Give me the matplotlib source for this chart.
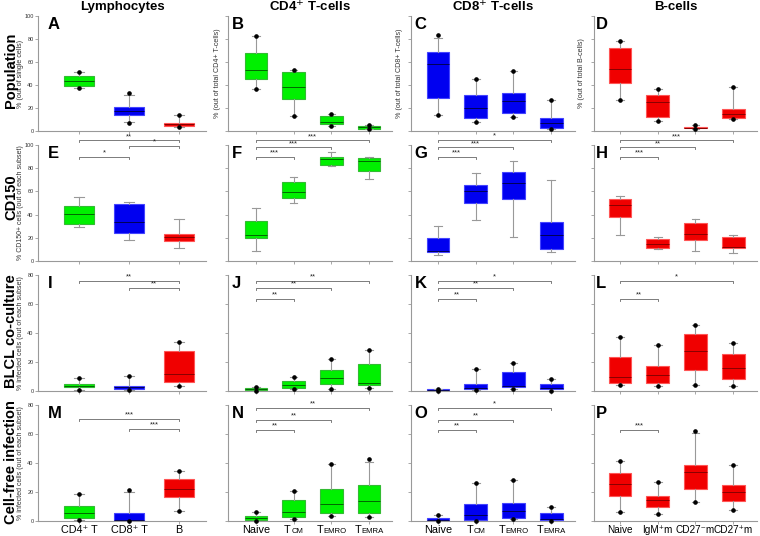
import matplotlib
matplotlib.use("Agg")
import matplotlib.pyplot as plt
from matplotlib.offsetbox import TextArea, HPacker, AnnotationBbox

plt.rcParams['font.family'] = ['Liberation Sans', 'DejaVu Sans']

# --- data: [whislo, q1, median, q3, whishi] per box, dots = [low, high] ---
A_box = [[37, 39, 43.5, 47.8, 51.6], [7.5, 13.9, 17.4, 20.6, 31], [3.2, 4.3, 5.8, 7.2, 13.9]]
A_dots = [[37, 51.6], [6.7, 33.3], [3.2, 13.9]]
B_box = [[36.5, 45.5, 53, 67.5, 82.6], [13.3, 28, 38, 51.3, 52.8], [4.6, 5.8, 7.5, 12.8, 14.8], [1.4, 2, 3.2, 4.3, 5.2]]
B_dots = [[36.5, 82.6], [13.3, 52.8], [4.6, 14.8], [1.4, 5.2]]
C_box = [[13.6, 29, 58, 68.4, 81], [8.1, 11, 19.7, 31.3, 45.5], [11.9, 15.9, 26.4, 33, 52.2], [2, 2.9, 7.2, 11.6, 27]]
C_dots = [[13.6, 83.8], [8.1, 45.5], [11.9, 52.2], [2, 27]]
D_box = [[27, 41.5, 53.6, 71.9, 78.6], [8.7, 12.5, 25.5, 31.3, 36.2], [1.5, 2.3, 3, 3.8, 4.9], [10.4, 11, 14.5, 19.1, 38]]
D_dots = [[27, 78.6], [8.7, 36.2], [1.5, 4.9], [10.4, 38]]

E_box = [[29, 31.6, 40.2, 47.7, 55.4], [18.1, 23.9, 33.6, 48.9, 51.1], [10.9, 17.5, 20.4, 23, 36.5]]
F_box = [[8.9, 20.1, 22.1, 34.5, 45.4], [50, 54, 59.7, 67.8, 72.7], [81.9, 82.8, 87.7, 89.9, 93.7], [70.9, 77.8, 86.5, 89, 89.9]]
G_box = [[4.9, 7.5, 9, 20.1, 30.4], [35.3, 49.7, 60.6, 65.3, 75.9], [21, 53.4, 67.5, 76.7, 85.9], [7.8, 10.1, 22.7, 33.4, 69.6]]
H_box = [[22.2, 38.2, 48, 53.4, 56.3], [10.1, 11.5, 14.7, 18.7, 20.4], [8.4, 17.8, 23, 32.8, 36.5], [6.6, 10.9, 12.3, 20.4, 22.7]]

I_box = [[0.7, 2.5, 3.7, 4.8, 8.7], [0.7, 1.4, 2.6, 3.7, 10.3], [3.4, 6.4, 11.7, 27.4, 33.6]]
I_dots = [[0.7, 8.7], [0.7, 10.3], [3.4, 33.6]]
J_box = [[0.3, 0.9, 1.5, 2.1, 2.5], [1.2, 2.3, 4.1, 7.1, 9.9], [1.6, 4.6, 8.7, 14.3, 22.3], [2.3, 4.4, 5.7, 18.4, 28.5]]
J_dots = [[0.3, 2.5], [1.2, 9.9], [1.6, 22.3], [2.3, 28.5]]
K_box = [[0.3, 0.5, 0.8, 1.1, 1.2], [0.7, 1.6, 2.3, 4.6, 15], [1.1, 2.8, 3.4, 13.3, 19.1], [0.3, 1.2, 1.9, 4.8, 8.1]]
K_dots = [[0.3, 1.2], [0.7, 15], [1.1, 19.1], [0.3, 8.1]]
L_box = [[4.1, 5.5, 9.7, 23.4, 37], [3.4, 5.5, 11, 17, 31.7], [4, 14.5, 27.6, 39.3, 45.5], [3.4, 8.3, 15.9, 25.5, 33]]
L_dots = [[4.1, 37], [3.4, 31.7], [4, 45.5], [3.4, 33]]

M_box = [[0.9, 1.9, 5.3, 10.1, 18.4], [0.2, 0.2, 0.8, 5.7, 20], [6.7, 16.8, 21.9, 28.8, 34.5]]
M_dots = [[0.9, 18.4], [0.2, 21.4], [6.7, 34.5]]
N_box = [[0, 0.5, 2.3, 3.7, 6.2], [1.6, 2.5, 6, 14.5, 20.9], [3.2, 5.7, 11.5, 22.3, 39.3], [2.8, 5.7, 13.6, 24.6, 41]]
N_dots = [[0, 6.2], [1.6, 20.9], [3.2, 39.3], [2.8, 42.6]]
O_box = [[0.3, 0.4, 1, 2.1, 3.9], [0, 0.5, 4.1, 11.7, 26.4], [1.6, 2.1, 7.1, 12.4, 28], [0.2, 0.7, 1.5, 5.5, 9.9]]
O_dots = [[0.3, 3.9], [0, 26.4], [1.6, 28], [0.2, 9.9]]
P_box = [[6.4, 17.2, 25.5, 33.1, 41.6], [5, 9.4, 14.5, 17.2, 26.9], [13.1, 22.1, 33.6, 38.6, 60.5], [7.8, 13.6, 20, 25, 38.4]]
P_dots = [[6.4, 41.6], [5, 26.9], [13.1, 62.3], [7.8, 38.4]]

# significance brackets: (from, to, label, level)
E_sig = [(1, 3, '**', 104), (2, 3, '*', 99), (1, 2, '*', 89.6)]
F_sig = [(1, 4, '***', 104), (1, 3, '***', 98), (1, 2, '***', 89.6)]
G_sig = [(1, 4, '*', 104.5), (1, 3, '***', 98), (1, 2, '***', 89.6)]
H_sig = [(1, 4, '***', 104), (1, 3, '**', 98), (1, 2, '***', 89.6)]
I_sig = [(1, 3, '**', 76), (2, 3, '**', 71)]
J_sig = [(1, 4, '**', 76), (1, 3, '**', 71), (1, 2, '**', 63.4)]
K_sig = [(1, 4, '*', 76), (1, 3, '**', 71), (1, 2, '**', 63.4)]
L_sig = [(1, 4, '*', 76), (1, 2, '**', 63.4)]
M_sig = [(1, 3, '***', 70.3), (2, 3, '***', 63.4)]
N_sig = [(1, 4, '**', 78), (1, 3, '**', 70), (1, 2, '**', 63)]
O_sig = [(1, 4, '*', 78), (1, 3, '**', 70), (1, 2, '**', 63)]
P_sig = [(1, 2, '***', 63)]

col_titles = ['Lymphocytes', 'CD4$^{+}$ T-cells', 'CD8$^{+}$ T-cells', 'B-cells']
row_titles = ['Population', 'CD150', 'BLCL co-culture', 'Cell-free infection']
row1_ylabels = ['% (out of single cells)', '% (out of total CD4+ T-cells)',
                '% (out of total CD8+ T-cells)', '% (out of total B-cells)']
col1_ylabels = ['% (out of single cells)', '% CD150+ cells (out of each subset)',
                '% infected cells (out of each subset)', '% infected cells (out of each subset)']
lymph_labels = ['CD4\u207a T', 'CD8\u207a T', 'B']
t_labels = ['Naive', ('T', 'CM'), ('T', 'EMRO'), ('T', 'EMRA')]
b_labels = ['Naive', 'IgM\u207am', 'CD27\u207bm', 'CD27\u207am']

GREEN = ('#00f000', '#33bb33', '#006600')
BLUE = ('#0000f0', '#4444ff', '#000055')
RED = ('#f00000', '#ff5555', '#880000')

panels = [
    [('A', A_box, A_dots, None, [GREEN, BLUE, RED]),
     ('B', B_box, B_dots, None, [GREEN] * 4),
     ('C', C_box, C_dots, None, [BLUE] * 4),
     ('D', D_box, D_dots, None, [RED] * 4)],
    [('E', E_box, None, E_sig, [GREEN, BLUE, RED]),
     ('F', F_box, None, F_sig, [GREEN] * 4),
     ('G', G_box, None, G_sig, [BLUE] * 4),
     ('H', H_box, None, H_sig, [RED] * 4)],
    [('I', I_box, I_dots, I_sig, [GREEN, BLUE, RED]),
     ('J', J_box, J_dots, J_sig, [GREEN] * 4),
     ('K', K_box, K_dots, K_sig, [BLUE] * 4),
     ('L', L_box, L_dots, L_sig, [RED] * 4)],
    [('M', M_box, M_dots, M_sig, [GREEN, BLUE, RED]),
     ('N', N_box, N_dots, N_sig, [GREEN] * 4),
     ('O', O_box, O_dots, O_sig, [BLUE] * 4),
     ('P', P_box, P_dots, P_sig, [RED] * 4)],
]

# layout in pixels
W, H = 760, 536
col_left = [38, 228, 411, 594]
col_right = [206, 392, 575, 757]
row_top = [16, 145, 275, 405]
row_bot = [131, 261, 391, 521]
xlims = [(0.18, 3.54), (0.257, 4.61), (0.284, 4.63), (0.31, 4.63)]
ylims = [100, 100, 80, 80]
letter_dx = [7, 2.5, 2.5, 1.5]
ylabel_x = [-0.085, -0.045, -0.05, -0.055]

fig = plt.figure(figsize=(W / 100, H / 100), dpi=100)
gray = '#999999'

def bracket(ax, x1, x2, y, label, top):
    d = top * 0.018
    ax.plot([x1, x1, x2, x2], [y - d, y, y, y - d], color='#666666', lw=0.6, clip_on=False)
    ax.annotate(label, ((x1 + x2) / 2, y), xytext=(0, 0.3), textcoords='offset points',
                ha='center', va='bottom', fontsize=5.5, color='#222222', annotation_clip=False)

for r in range(4):
    for c in range(4):
        letter, boxes, dots, sig, colors = panels[r][c]
        ax = fig.add_axes([col_left[c] / W, 1 - row_bot[r] / H,
                           (col_right[c] - col_left[c]) / W, (row_bot[r] - row_top[r]) / H])
        n = len(boxes)
        pos = list(range(1, n + 1))
        stats = [dict(whislo=b[0], q1=b[1], med=b[2], q3=b[3], whishi=b[4], fliers=[]) for b in boxes]
        res = ax.bxp(stats, positions=pos, widths=0.6, patch_artist=True, showfliers=False,
                     whiskerprops=dict(color=gray, lw=0.8), capprops=dict(color=gray, lw=0.8),
                     capwidths=0.2)
        for i, (face, edge, medc) in enumerate(colors):
            res['boxes'][i].set_facecolor(face)
            res['boxes'][i].set_edgecolor(edge)
            res['boxes'][i].set_linewidth(0.8)
            res['medians'][i].set_color(medc)
            res['medians'][i].set_linewidth(0.7)
        if dots is not None:
            for i, (lo, hi) in enumerate(dots):
                ax.plot([pos[i], pos[i]], [lo, hi], 'o', color='black', ms=2.3, ls='none',
                        clip_on=False, zorder=5)
        top = ylims[r]
        ax.set_xlim(*xlims[c])
        ax.set_ylim(0, top)
        ax.set_yticks(range(0, top + 1, 20))
        ax.set_xticks(pos)
        for s in ['top', 'right']:
            ax.spines[s].set_visible(False)
        for s in ['left', 'bottom']:
            ax.spines[s].set_color(gray)
            ax.spines[s].set_linewidth(0.8)
        ax.tick_params(colors=gray, length=2.2, width=0.6, labelcolor='#333333', labelsize=4, pad=1)
        if c != 0:
            ax.set_yticklabels([])
        if r == 0:
            ax.set_ylabel(row1_ylabels[c], fontsize=5.1, color='#333333')
        elif c == 0:
            ax.set_ylabel(col1_ylabels[r], fontsize=5.0, color='#333333')
        ax.yaxis.set_label_coords(ylabel_x[c], 0.5)
        if r == 3:
            labels = [lymph_labels, t_labels, t_labels, b_labels][c]
            fs = 7.2 if c == 3 else 7.8
            ax.set_xticklabels([lab if isinstance(lab, str) else '' for lab in labels],
                               fontsize=fs, color='black')
            ax.tick_params(axis='x', pad=0.8)
            for i, lab in enumerate(labels):
                if isinstance(lab, str):
                    continue
                big = TextArea(lab[0], textprops=dict(fontsize=7.8, color='black'))
                small = TextArea(lab[1], textprops=dict(fontsize=5.6, color='black'))
                pack = HPacker(children=[big, small], align='baseline', pad=0, sep=0.3)
                ab = AnnotationBbox(pack, (pos[i], 0), xycoords=('data', 'axes fraction'),
                                    xybox=(0, -3.0), boxcoords='offset points',
                                    box_alignment=(0.5, 1), frameon=False, pad=0,
                                    annotation_clip=False)
                ax.add_artist(ab)
        else:
            ax.set_xticklabels([])
        if sig is not None:
            for x1, x2, lab, lev in sig:
                bracket(ax, x1, x2, lev, lab, top)
        ax.annotate(letter, (0, 1), xycoords='axes fraction', xytext=(letter_dx[c], -1),
                    textcoords='offset points', ha='left', va='top', fontsize=12,
                    fontweight='heavy', color='black')

for c in range(4):
    xc = (col_left[c] + col_right[c]) / 2 / W
    fig.text(xc, 1 - 7 / H, col_titles[c], ha='center', va='center', fontsize=9.5,
             fontweight='bold')

row_centers = [70, 197, 331, 462]
for r in range(4):
    fig.text(11 / W, 1 - row_centers[r] / H, row_titles[r], rotation=90, ha='center',
             va='center', fontsize=10.5, fontweight='bold')

fig.savefig('out.png', dpi=100)
